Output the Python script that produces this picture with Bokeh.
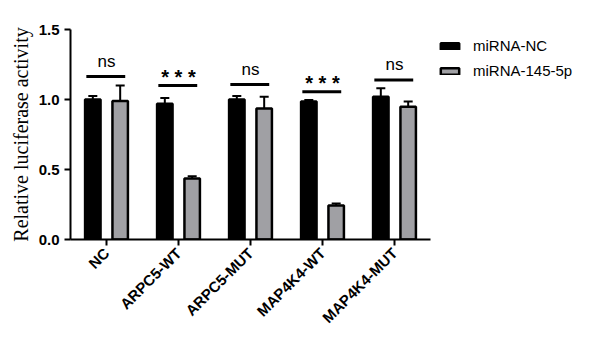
from math import pi
from bokeh.plotting import figure
from bokeh.models import (ColumnDataSource, FactorRange, Range1d, FixedTicker, Legend, LegendItem,
                          Whisker, TeeHead, CustomJSTickFormatter)
from bokeh.transform import dodge
from bokeh.core.properties import value
from bokeh.embed import file_html
from bokeh.resources import INLINE

categories = ["NC", "ARPC5-WT", "ARPC5-MUT", "MAP4K4-WT", "MAP4K4-MUT"]
nc_values = [1.00, 0.97, 1.00, 0.985, 1.02]
nc_errors = [0.025, 0.04, 0.025, 0.012, 0.06]
mir_values = [0.99, 0.435, 0.935, 0.243, 0.948]
mir_errors = [0.11, 0.017, 0.085, 0.014, 0.038]
sig_labels = ["ns", "* * *", "ns", "* * *", "ns"]
sig_heights = [1.164, 1.10, 1.107, 1.055, 1.14]
y_ticks = [0.0, 0.5, 1.0, 1.5]

src = ColumnDataSource(dict(
    cat=categories,
    nc=nc_values, nc_up=[v + e for v, e in zip(nc_values, nc_errors)],
    mir=mir_values, mir_up=[v + e for v, e in zip(mir_values, mir_errors)],
    sig_y=sig_heights,
))

ns_idx = [i for i, s in enumerate(sig_labels) if s == "ns"]
st_idx = [i for i, s in enumerate(sig_labels) if s != "ns"]
ns_src = ColumnDataSource(dict(cat=[categories[i] for i in ns_idx],
                               y=[sig_heights[i] for i in ns_idx],
                               t=[sig_labels[i] for i in ns_idx]))
st_src = ColumnDataSource(dict(cat=[categories[i] for i in st_idx],
                               y=[sig_heights[i] for i in st_idx],
                               t=[sig_labels[i] for i in st_idx]))

p = figure(frame_width=360, frame_height=210, x_range=FactorRange(*categories, range_padding=0),
           y_range=Range1d(0, 1.5), output_backend="svg", toolbar_location=None,
           min_border_left=70, min_border_right=179, min_border_top=29, min_border_bottom=115)
p.outline_line_color = None
p.xgrid.visible = False
p.ygrid.visible = False

off = 0.19
bw = 0.215
r_nc = p.vbar(x=dodge("cat", -off, range=p.x_range), top="nc", width=bw, source=src,
              fill_color="black", line_color="black", line_width=2.5)
r_mir = p.vbar(x=dodge("cat", off, range=p.x_range), top="mir", width=bw, source=src,
               fill_color="#a0a0a4", line_color="black", line_width=2.5)

for key, up, d in [("nc", "nc_up", -off), ("mir", "mir_up", off)]:
    w = Whisker(base=dodge("cat", d, range=p.x_range), lower=key, upper=up, source=src,
                line_color="black", line_width=2,
                upper_head=TeeHead(size=9, line_color="black", line_width=2), lower_head=None)
    p.add_layout(w)

p.segment(x0=dodge("cat", -0.28, range=p.x_range), x1=dodge("cat", 0.26, range=p.x_range),
          y0="sig_y", y1="sig_y", source=src, line_color="black", line_width=3)
p.text(x="cat", y="y", text="t", source=ns_src, text_align="center", text_baseline="middle",
       y_offset=-15, text_font=value("Liberation Sans"), text_font_size="17px", text_color="black")
p.text(x="cat", y="y", text="t", source=st_src, text_align="center", text_baseline="middle",
       y_offset=-9, text_font=value("Liberation Sans"), text_font_size="20px",
       text_font_style="bold", text_color="black")

p.yaxis.ticker = FixedTicker(ticks=y_ticks)
p.yaxis.formatter = CustomJSTickFormatter(code="return tick.toFixed(1);")
for ax in (p.xaxis[0], p.yaxis[0]):
    ax.axis_line_width = 2
    ax.major_tick_line_width = 2
    ax.major_tick_out = 6
    ax.major_tick_in = 0
    ax.minor_tick_line_color = None
    ax.major_label_text_font = "Liberation Sans"
    ax.major_label_text_font_style = "bold"
    ax.major_label_text_color = "black"
    ax.axis_line_color = "black"
    ax.major_tick_line_color = "black"
p.yaxis.major_label_text_font_size = "15px"
p.xaxis.major_label_text_font_size = "15px"
p.xaxis.major_label_orientation = pi / 4
p.yaxis.axis_label = "Relative luciferase activity"
p.yaxis.axis_label_text_font = "Liberation Serif"
p.yaxis.axis_label_text_font_style = "normal"
p.yaxis.axis_label_text_font_size = "20px"
p.yaxis.axis_label_text_color = "black"
p.yaxis.axis_label_standoff = 4

legend = Legend(items=[LegendItem(label="miRNA-NC", renderers=[r_nc]),
                       LegendItem(label="miRNA-145-5p", renderers=[r_mir])],
                location="top_left", padding=0, margin=8, spacing=8,
                glyph_width=23, glyph_height=8, label_standoff=12,
                label_text_font="Liberation Sans", label_text_font_size="15px",
                label_text_color="black",
                border_line_alpha=0, background_fill_alpha=0)
p.add_layout(legend, "right")

open("out.html", "w").write(file_html(p, INLINE))
